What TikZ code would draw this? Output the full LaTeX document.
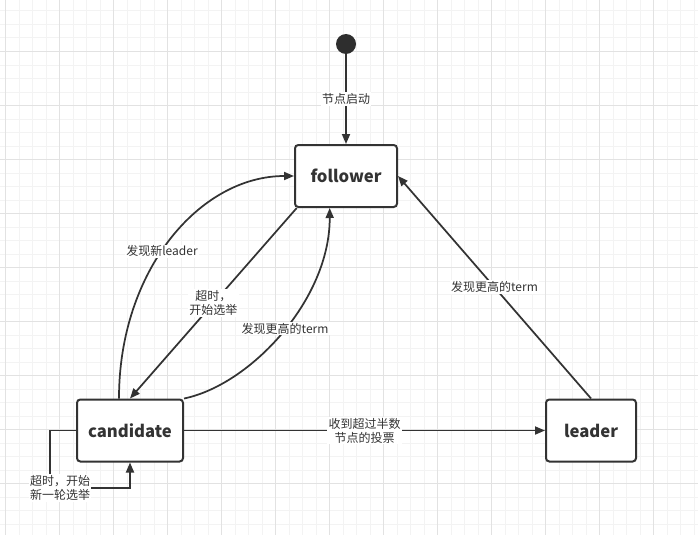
\documentclass[tikz,border=0pt]{standalone}
\usepackage{fontspec}
\setmainfont{Noto Sans CJK SC}
\usetikzlibrary{arrows.meta}
\definecolor{ink}{HTML}{333333}
\definecolor{gridminor}{HTML}{F3F3F3}
\definecolor{gridmajor}{HTML}{E2E2E2}
\begin{document}
\begin{tikzpicture}[x=0.75pt,y=-0.75pt,
	state/.style={draw=ink,line width=1.5pt,rounded corners=2.5pt,fill=white,text=ink,font=\fontsize{12.5}{15}\selectfont\bfseries,minimum height=46.5pt},
	trans/.style={draw=ink,line width=1.3pt,-{Triangle[length=7.5pt,width=6pt]}},
	lbl/.style={fill=white,text=ink,font=\fontsize{9}{10.5}\selectfont,inner sep=1pt,align=center}]
	\useasboundingbox (0,0) rectangle (698,535);
	\fill[white] (0,0) rectangle (698,535);
	\foreach \gx in {5.5,19,...,698} \draw[gridminor,line width=0.75pt] (\gx,0) -- (\gx,535);
	\foreach \gy in {-2.5,11,...,535} \draw[gridminor,line width=0.75pt] (0,\gy) -- (698,\gy);
	\foreach \gx in {5.5,59.5,...,698} \draw[gridmajor,line width=0.75pt] (\gx,0) -- (\gx,535);
	\foreach \gy in {-2.5,51.5,...,535} \draw[gridmajor,line width=0.75pt] (0,\gy) -- (698,\gy);
	\node[circle,fill=ink!90!black,inner sep=0pt,minimum size=15pt] (init) at (346,44) {};
	\node[state,minimum width=76.5pt] (follower) at (346,176) {follower};
	\node[state,minimum width=79.5pt] (cand) at (130,430.5) {candidate};
	\node[state,minimum width=67.5pt] (leader) at (591,430.5) {leader};
	\draw[trans] (init) -- (follower.north) node[lbl,midway] {节点启动};
	\draw[trans] (follower.213) -- (cand.north) node[lbl,midway] {超时，\\开始选举};
	\draw[trans] (cand.109) .. controls (119,270) and (200,176) .. (follower.west) node[lbl,pos=0.45] {发现新leader};
	\draw[trans] (cand.north east) .. controls (250,385) and (330,300) .. (follower.243) node[lbl,pos=0.52] {发现更高的term};
	\draw[trans] (leader.north) -- (follower.east) node[lbl,midway] {发现更高的term};
	\draw[trans] (cand.east) -- (leader.west) node[lbl,midway] {收到超过半数\\节点的投票};
	\coordinate (loopcorner) at (50,488);
	\draw[trans] (cand.west) -| (loopcorner) -| (cand.south);
	\node[lbl] (loopnote) at (60,488) {超时，开始\\新一轮选举};
\end{tikzpicture}
\end{document}
